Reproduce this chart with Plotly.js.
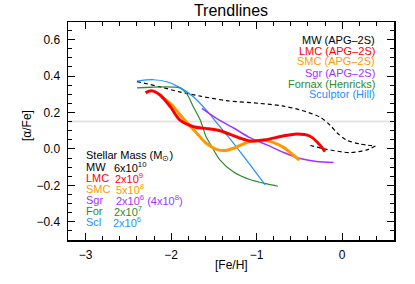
<!DOCTYPE html>
<html>
<head>
<meta charset="utf-8">
<script src="https://cdn.plot.ly/plotly-3.0.1.min.js"></script>
<style>html,body{margin:0;padding:0;background:#fff}#plot{width:415px;height:284px}</style>
</head>
<body>
<div id="plot"></div>
<script>
// ---- data ----
// MW: upper branch to the turning point at [Fe/H]=0.39, then the lower branch back
const mwFeH    = [-2.40,-2.13,-1.90,-1.66,-1.35,-0.96,-0.70,-0.49,-0.26,-0.14,-0.06,0.05,0.21,0.39,0.29,0.09,-0.18,-0.40];
const mwAlpha  = [0.370,0.341,0.313,0.290,0.265,0.250,0.236,0.214,0.175,0.130,0.089,0.049,0.027,0.016,-0.005,-0.020,-0.002,0.022];
const mwTurn   = 13; // index of the turning point

const lmcFeH   = [-2.30,-2.23,-2.13,-2.01,-1.90,-1.74,-1.60,-1.43,-1.20,-1.08,-0.90,-0.69,-0.53,-0.38,-0.26,-0.20];
const lmcAlpha = [0.309,0.320,0.296,0.232,0.159,0.122,0.113,0.100,0.060,0.044,0.050,0.071,0.082,0.071,0.022,-0.015];

const smcFeH   = [-2.11,-2.01,-1.86,-1.70,-1.59,-1.47,-1.37,-1.27,-1.08,-0.90,-0.80,-0.69,-0.50];
const smcAlpha = [0.285,0.250,0.168,0.086,0.031,-0.002,-0.009,0.004,0.040,0.046,0.035,0.010,-0.062];

const sgrFeH   = [-1.64,-1.47,-1.27,-1.08,-0.88,-0.69,-0.49,-0.30,-0.10];
const sgrAlpha = [0.223,0.168,0.115,0.062,0.022,-0.018,-0.053,-0.069,-0.075];

const forFeH   = [-2.40,-1.90,-1.82,-1.74,-1.66,-1.59,-1.54,-1.43,-1.27,-1.08,-0.88,-0.75];
const forAlpha = [0.335,0.335,0.305,0.230,0.159,0.065,0.025,-0.060,-0.127,-0.168,-0.192,-0.205];

const sclFeH   = [-2.40,-2.21,-2.05,-1.90,-1.74,-1.59,-1.43,-1.27,-1.12,-0.90];
const sclAlpha = [0.373,0.380,0.369,0.338,0.287,0.214,0.122,0.031,-0.060,-0.197];

const refLine  = 0.15;

const legendLabels = ["MW (APG\u20132S)","LMC (APG\u20132S)","SMC (APG\u20132S)","Sgr (APG\u20132S)","Fornax (Henricks)","Sculptor (Hill)"];
const massNames  = ["MW","LMC","SMC","Sgr","For","Scl"];
const massValues = ["6x10<sup>10</sup>","2x10<sup>9</sup>","5x10<sup>8</sup>","2x10<sup>6</sup> (4x10<sup>8</sup>)","2x10<sup>7</sup>","2x10<sup>6</sup>"];
const colors = ["#000000","#ff0000","#ff9900","#a033ff","#2e8b2e","#1e90ff"];

// ---- drawing ----
const FONT = "Liberation Sans, Arial, Helvetica, sans-serif";
function tr(x,y,color,width,dash){
  return {x:x,y:y,mode:"lines",type:"scatter",hoverinfo:"skip",
    line:{color:color,width:width,dash:dash||"solid",shape:"spline",smoothing:0.8}};
}
const traces = [
  {x:[-3.2,0.6],y:[refLine,refLine],mode:"lines",line:{color:"#e4e4e4",width:2},hoverinfo:"skip"},
  tr(mwFeH.slice(0,mwTurn+1),mwAlpha.slice(0,mwTurn+1),colors[0],1.2,"4px,3px"),
  tr(mwFeH.slice(mwTurn),mwAlpha.slice(mwTurn),colors[0],1.2,"4px,3px"),
  tr(forFeH,forAlpha,colors[4],1.2),
  tr(sclFeH,sclAlpha,colors[5],1.2),
  tr(sgrFeH,sgrAlpha,colors[3],1.5),
  tr(smcFeH,smcAlpha,colors[2],3),
  tr(lmcFeH,lmcAlpha,colors[1],3)
];

const L=68, R=21, T=22, B=44, W=415, H=284;
const pw=W-L-R, ph=H-T-B;
function px2x(px){return (px-L)/pw;}
function py2y(py){return (H-B-py)/ph;}

const ann = [];
const legY=[39.5,50.5,61.5,72.5,83.5,94.5];
legendLabels.forEach((t,i)=>ann.push({xref:"paper",yref:"paper",x:px2x(377),y:py2y(legY[i]),
  xanchor:"right",yanchor:"middle",text:t,showarrow:false,font:{family:FONT,size:11,color:colors[i]}}));

ann.push({xref:"paper",yref:"paper",x:px2x(83.5),y:py2y(156),xanchor:"left",yanchor:"middle",
  text:"Stellar Mass (M<sub>\u2299</sub>)",showarrow:false,font:{family:FONT,size:11,color:"#000"}});
const massY=[167,178,189,200,211,222];
const massX=[112,113,114,114,112,111];
massNames.forEach((t,i)=>{
  ann.push({xref:"paper",yref:"paper",x:px2x(83.5),y:py2y(massY[i]),xanchor:"left",yanchor:"middle",
    text:t,showarrow:false,font:{family:FONT,size:11,color:colors[i]}});
  ann.push({xref:"paper",yref:"paper",x:px2x(massX[i]),y:py2y(massY[i]),xanchor:"left",yanchor:"middle",
    text:massValues[i],showarrow:false,font:{family:FONT,size:11,color:colors[i]}});
});
// axis titles
ann.push({xref:"paper",yref:"paper",x:px2x(231),y:py2y(264.5),xanchor:"center",yanchor:"middle",
  text:"[Fe/H]",showarrow:false,font:{family:FONT,size:12,color:"#000"}});
ann.push({xref:"paper",yref:"paper",x:px2x(27),y:py2y(126),xanchor:"center",yanchor:"middle",textangle:-90,
  text:"[\u03b1/Fe]",showarrow:false,font:{family:FONT,size:12,color:"#000"}});

const axisCommon = {showline:true,linecolor:"#000",linewidth:1.5,mirror:"allticks",ticks:"inside",
  ticklen:7,tickwidth:1,tickcolor:"#000",showgrid:false,zeroline:false,
  tickfont:{family:FONT,size:12,color:"#000"}};

const layout = {
  width:W,height:H,margin:{l:L,r:R,t:T,b:B},paper_bgcolor:"#fff",plot_bgcolor:"#fff",
  showlegend:false,
  title:{text:"Trendlines",font:{family:FONT,size:16,color:"#000"},x:231/W,xanchor:"center",
    y:1-10/H,yref:"container",yanchor:"middle"},
  xaxis:Object.assign({},axisCommon,{range:[-3.207,0.607],tickmode:"array",tickvals:[-3,-2,-1,0],
    ticktext:["\u22123","\u22122","\u22121","0"],
    minor:{ticks:"inside",ticklen:4,dtick:0.2,tick0:0,tickcolor:"#000",showgrid:false},ticklabelstandoff:3}),
  yaxis:Object.assign({},axisCommon,{range:[-0.5,0.697],tickmode:"array",tickvals:[-0.4,-0.2,0,0.2,0.4,0.6],
    ticktext:["\u22120.4","\u22120.2","0.0","0.2","0.4","0.6"],
    minor:{ticks:"inside",ticklen:4,dtick:0.05,tick0:0,tickcolor:"#000",showgrid:false},ticklabelstandoff:4}),
  annotations:ann
};
Plotly.newPlot("plot",traces,layout,{staticPlot:true,displayModeBar:false});
</script>
</body>
</html>
